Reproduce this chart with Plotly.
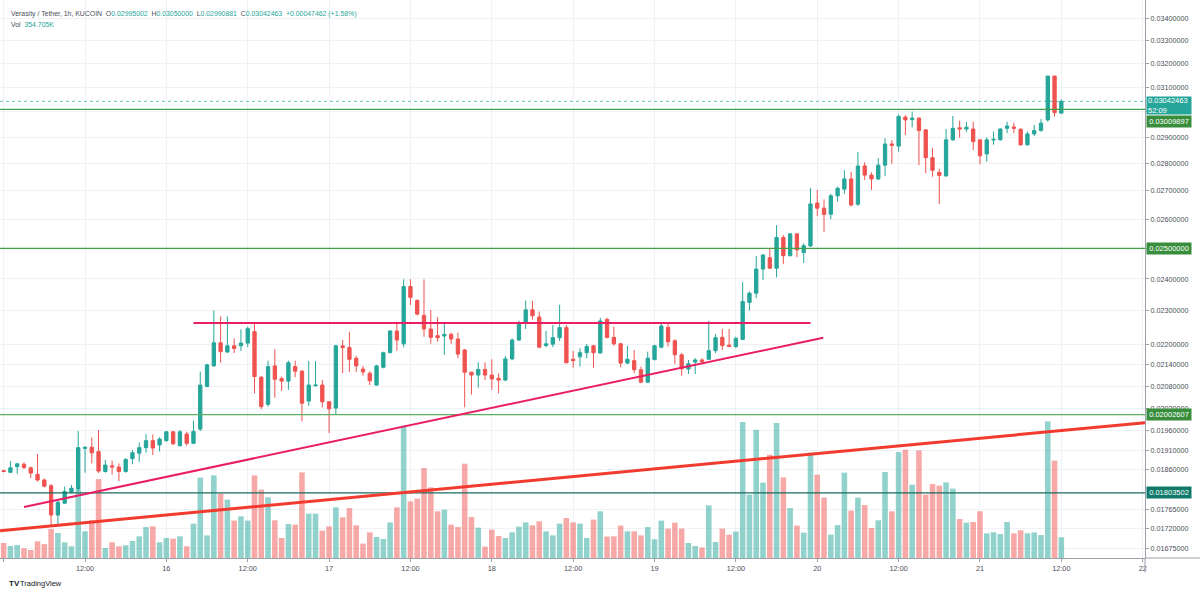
import math
import pandas as pd
import plotly.graph_objects as go

# ---------------- data ----------------
start_time = "2021-11-15 00:00"

opens = [0.01858, 0.01854, 0.01868, 0.01874, 0.01865, 0.01849, 0.01835, 0.01821, 0.01751, 0.01779,
         0.01805, 0.01813, 0.01914, 0.01917, 0.01906, 0.01856, 0.01870, 0.01867, 0.01856, 0.01888,
         0.01902, 0.01916, 0.01934, 0.01923, 0.01934, 0.01957, 0.01921, 0.01951, 0.01927, 0.01964,
         0.02079, 0.02137, 0.02204, 0.02177, 0.02195, 0.02195, 0.02203, 0.02237, 0.02105, 0.02030,
         0.02137, 0.02101, 0.02094, 0.02135, 0.02122, 0.02039, 0.02081, 0.02083, 0.02037, 0.02020,
         0.02195, 0.02190, 0.02159, 0.02128, 0.02116, 0.02083, 0.02133, 0.02175, 0.02239, 0.02201,
         0.02376, 0.02332, 0.02286, 0.02245, 0.02225, 0.02224, 0.02229, 0.02215, 0.02183, 0.02119,
         0.02111, 0.02127, 0.02111, 0.02102, 0.02097, 0.02157, 0.02212, 0.02264, 0.02303, 0.02281,
         0.02196, 0.02200, 0.02219, 0.02249, 0.02156, 0.02163, 0.02175, 0.02195, 0.02174, 0.02274,
         0.02220, 0.02201, 0.02145, 0.02152, 0.02126, 0.02091, 0.02155, 0.02191, 0.02250, 0.02210,
         0.02169, 0.02128, 0.02148, 0.02154, 0.02156, 0.02181, 0.02220, 0.02197, 0.02193, 0.02214,
         0.02326, 0.02355, 0.02432, 0.02469, 0.02435, 0.02537, 0.02476, 0.02549, 0.02486, 0.02508,
         0.02656, 0.02638, 0.02617, 0.02682, 0.02706, 0.02743, 0.02652, 0.02791, 0.02757, 0.02743,
         0.02794, 0.02874, 0.02866, 0.02979, 0.02969, 0.02975, 0.02929, 0.02822, 0.02767, 0.02754,
         0.02890, 0.02937, 0.02932, 0.02932, 0.02890, 0.02836, 0.02889, 0.02890, 0.02935, 0.02940,
         0.02931, 0.02871, 0.02913, 0.02926, 0.02968, 0.03147, 0.02995002]

highs = [0.01860, 0.01882, 0.01877, 0.01879, 0.01868, 0.01900, 0.01839, 0.01825, 0.01787, 0.01819,
         0.01823, 0.01959, 0.01919, 0.01942, 0.01962, 0.01885, 0.01883, 0.01876, 0.01889, 0.01910,
         0.01929, 0.01951, 0.01950, 0.01943, 0.01959, 0.01959, 0.01962, 0.01957, 0.01986, 0.02121,
         0.02143, 0.02301, 0.02283, 0.02283, 0.02217, 0.02244, 0.02252, 0.02265, 0.02108, 0.02152,
         0.02185, 0.02107, 0.02152, 0.02152, 0.02125, 0.02151, 0.02151, 0.02097, 0.02039, 0.02198,
         0.02212, 0.02237, 0.02166, 0.02137, 0.02122, 0.02140, 0.02178, 0.02241, 0.02267, 0.02399,
         0.02399, 0.02336, 0.02399, 0.02303, 0.02281, 0.02260, 0.02234, 0.02234, 0.02186, 0.02120,
         0.02147, 0.02147, 0.02156, 0.02116, 0.02166, 0.02217, 0.02270, 0.02332, 0.02331, 0.02298,
         0.02239, 0.02257, 0.02319, 0.02257, 0.02180, 0.02188, 0.02201, 0.02198, 0.02279, 0.02279,
         0.02252, 0.02204, 0.02195, 0.02183, 0.02135, 0.02178, 0.02198, 0.02262, 0.02259, 0.02214,
         0.02174, 0.02154, 0.02159, 0.02159, 0.02270, 0.02230, 0.02245, 0.02245, 0.02222, 0.02390,
         0.02360, 0.02475, 0.02481, 0.02500, 0.02579, 0.02545, 0.02551, 0.02551, 0.02517, 0.02710,
         0.02703, 0.02669, 0.02689, 0.02715, 0.02775, 0.02769, 0.02843, 0.02805, 0.02767, 0.02820,
         0.02896, 0.02889, 0.02990, 0.02988, 0.03001, 0.02979, 0.02930, 0.02858, 0.02779, 0.02932,
         0.02984, 0.02965, 0.02960, 0.02960, 0.02892, 0.02900, 0.02922, 0.02935, 0.02961, 0.02957,
         0.02935, 0.02922, 0.02948, 0.02971, 0.03147, 0.03147, 0.03050000]

lows = [0.01854, 0.01852, 0.01850, 0.01862, 0.01840, 0.01831, 0.01817, 0.01728, 0.01724, 0.01777,
        0.01803, 0.01807, 0.01853, 0.01876, 0.01852, 0.01853, 0.01848, 0.01832, 0.01853, 0.01874,
        0.01880, 0.01903, 0.01897, 0.01906, 0.01931, 0.01923, 0.01919, 0.01921, 0.01926, 0.01959,
        0.02077, 0.02135, 0.02146, 0.02174, 0.02174, 0.02180, 0.02191, 0.02060, 0.02017, 0.02024,
        0.02048, 0.02067, 0.02070, 0.02105, 0.01984, 0.02026, 0.02080, 0.02022, 0.01954, 0.02002,
        0.02116, 0.02120, 0.02120, 0.02109, 0.02083, 0.02081, 0.02130, 0.02174, 0.02181, 0.02191,
        0.02318, 0.02286, 0.02222, 0.02201, 0.02207, 0.02169, 0.02201, 0.02159, 0.02022, 0.02057,
        0.02076, 0.02097, 0.02070, 0.02060, 0.02094, 0.02153, 0.02210, 0.02245, 0.02273, 0.02188,
        0.02191, 0.02191, 0.02209, 0.02144, 0.02132, 0.02135, 0.02159, 0.02132, 0.02174, 0.02217,
        0.02195, 0.02133, 0.02142, 0.02116, 0.02088, 0.02088, 0.02153, 0.02188, 0.02193, 0.02142,
        0.02109, 0.02114, 0.02114, 0.02145, 0.02154, 0.02174, 0.02183, 0.02191, 0.02188, 0.02212,
        0.02301, 0.02339, 0.02397, 0.02432, 0.02405, 0.02449, 0.02473, 0.02471, 0.02452, 0.02505,
        0.02610, 0.02556, 0.02600, 0.02661, 0.02689, 0.02644, 0.02646, 0.02739, 0.02703, 0.02739,
        0.02754, 0.02799, 0.02845, 0.02909, 0.02939, 0.02794, 0.02764, 0.02751, 0.02653, 0.02751,
        0.02886, 0.02898, 0.02920, 0.02851, 0.02797, 0.02807, 0.02871, 0.02887, 0.02916, 0.02916,
        0.02867, 0.02867, 0.02905, 0.02922, 0.02961, 0.02981, 0.02990881]

closes = [0.01856, 0.01865, 0.01875, 0.01866, 0.01852, 0.01835, 0.01820, 0.01751, 0.01781, 0.01807,
          0.01815, 0.01916, 0.01917, 0.01903, 0.01857, 0.01872, 0.01867, 0.01856, 0.01886, 0.01903,
          0.01916, 0.01934, 0.01915, 0.01938, 0.01957, 0.01926, 0.01957, 0.01927, 0.01958, 0.02083,
          0.02140, 0.02204, 0.02178, 0.02195, 0.02187, 0.02203, 0.02246, 0.02107, 0.02024, 0.02135,
          0.02099, 0.02094, 0.02146, 0.02122, 0.02033, 0.02083, 0.02083, 0.02037, 0.02018, 0.02195,
          0.02190, 0.02156, 0.02137, 0.02120, 0.02095, 0.02137, 0.02175, 0.02239, 0.02212, 0.02376,
          0.02342, 0.02290, 0.02245, 0.02220, 0.02219, 0.02229, 0.02215, 0.02171, 0.02119, 0.02111,
          0.02127, 0.02111, 0.02100, 0.02097, 0.02157, 0.02212, 0.02264, 0.02303, 0.02285, 0.02191,
          0.02201, 0.02219, 0.02249, 0.02146, 0.02152, 0.02175, 0.02193, 0.02175, 0.02269, 0.02220,
          0.02201, 0.02145, 0.02156, 0.02126, 0.02091, 0.02159, 0.02195, 0.02254, 0.02207, 0.02169,
          0.02129, 0.02143, 0.02154, 0.02149, 0.02181, 0.02219, 0.02196, 0.02193, 0.02217, 0.02329,
          0.02355, 0.02432, 0.02478, 0.02435, 0.02537, 0.02476, 0.02549, 0.02495, 0.02509, 0.02653,
          0.02638, 0.02616, 0.02682, 0.02709, 0.02743, 0.02649, 0.02791, 0.02757, 0.02743, 0.02794,
          0.02874, 0.02869, 0.02981, 0.02968, 0.02975, 0.02926, 0.02822, 0.02775, 0.02756, 0.02890,
          0.02935, 0.02932, 0.02939, 0.02883, 0.02829, 0.02890, 0.02892, 0.02932, 0.02944, 0.02935,
          0.02871, 0.02913, 0.02926, 0.02955, 0.03147, 0.02997, 0.03042463]

volume_k = [257, 205, 222, 166, 137, 286, 239, 496, 428, 268,
            200, 1170, 457, 645, 1351, 171, 268, 200, 217, 291,
            371, 530, 542, 268, 342, 332, 371, 200, 588, 1375,
            388, 1414, 1101, 999, 640, 713, 640, 1414, 1170, 1038,
            645, 342, 581, 571, 1465, 759, 759, 469, 542, 867,
            696, 855, 559, 246, 439, 359, 325, 610, 867, 2264,
            970, 1016, 1539, 1209, 799, 828, 571, 530, 1614, 701,
            520, 195, 486, 376, 342, 439, 537, 610, 559, 628,
            457, 388, 588, 684, 610, 588, 342, 657, 799, 366,
            371, 554, 457, 457, 388, 530, 320, 640, 503, 605,
            503, 257, 205, 180, 901, 274, 503, 400, 451, 2326,
            1084, 2196, 1289, 1768, 2309, 1380, 855, 554, 434, 1802,
            1426, 1033, 400, 564, 1460, 811, 1033, 906, 513, 645,
            1471, 799, 1813, 1854, 1255, 1842, 1084, 1265, 1238, 1294,
            1187, 667, 605, 616, 799, 422, 439, 410, 616, 422,
            474, 422, 439, 393, 2338, 1666, 354.705]

price_tick_values = [0.01675, 0.0172, 0.01765, 0.0186, 0.0191, 0.0196, 0.0202, 0.0208, 0.0214,
                     0.022, 0.023, 0.024, 0.025, 0.026, 0.027, 0.028, 0.029, 0.030, 0.031,
                     0.032, 0.033, 0.034]
# 0.025 and 0.030 labels sit under the price-label boxes in the reference
price_tick_labels = ["0.01675000", "0.01720000", "0.01765000", "0.01860000", "0.01910000",
                     "0.01960000", "0.02020000", "0.02080000", "0.02140000", "0.02200000",
                     "0.02300000", "0.02400000", "", "0.02600000", "0.02700000", "0.02800000",
                     "0.02900000", "", "0.03100000", "0.03200000", "0.03300000", "0.03400000"]

time_tick_values = ["2021-11-15 00:00", "2021-11-15 12:00", "2021-11-16 00:00", "2021-11-16 12:00",
                    "2021-11-17 00:00", "2021-11-17 12:00", "2021-11-18 00:00", "2021-11-18 12:00",
                    "2021-11-19 00:00", "2021-11-19 12:00", "2021-11-20 00:00", "2021-11-20 12:00",
                    "2021-11-21 00:00", "2021-11-21 12:00", "2021-11-22 00:00"]
time_tick_labels = ["15", "12:00", "16", "12:00", "17", "12:00", "18", "12:00",
                    "19", "12:00", "20", "12:00", "21", "12:00", "22"]

x_range = ["2021-11-14 23:27:47", "2021-11-22 00:20:24"]
price_range = [0.016535, 0.034833]
volume_axis_max_k = 9550

# horizontal levels
level_prices = [0.03009897, 0.02500000, 0.02002607, 0.01803502]
level_labels = ["0.03009897", "0.02500000", "0.02002607", "0.01803502"]
level_line_colors = ["#43a047", "#43a047", "#5cae60", "#1b6b60"]
level_box_colors = ["#388e3c", "#388e3c", "#388e3c", "#0f7a69"]
level_label_shift = [-12.5, 0, 0, 0]

last_price = 0.03042463
last_price_label = "0.03042463<br>52:09"

# trend lines
pink_flat_x = ["2021-11-16 04:00", "2021-11-19 23:00"]
pink_flat_y = [0.02263, 0.02263]
pink_rise_x = ["2021-11-15 03:00", "2021-11-20 00:53"]
pink_rise_y = [0.01770, 0.02219]
red_rise_x = x_range
red_rise_y = [0.01715, 0.01981]

# ---------------- figure ----------------
UP = "#26a69a"
DOWN = "#ef5350"
GRID = "#eef1f6"
AXIS = "#9da0a8"
TXT = "#4a4e59"
FONT = "Liberation Sans, Arial, sans-serif"
GAP = "\u00a0\u00a0"

times = pd.date_range(start_time, periods=len(opens), freq="h")
vol_colors = ["rgba(38,166,154,0.5)" if c >= o else "rgba(239,83,80,0.5)"
              for o, c in zip(opens, closes)]

fig = go.Figure()

fig.add_trace(go.Bar(
    x=times, y=volume_k, marker=dict(color=vol_colors, line=dict(width=0)),
    width=0.82 * 3600 * 1000, yaxis="y", xaxis="x", hoverinfo="skip", showlegend=False))

fig.add_trace(go.Candlestick(
    x=times, open=opens, high=highs, low=lows, close=closes,
    increasing=dict(line=dict(color=UP, width=1), fillcolor=UP),
    decreasing=dict(line=dict(color=DOWN, width=1), fillcolor=DOWN),
    whiskerwidth=0, yaxis="y2", xaxis="x", showlegend=False))

# level lines
for p, col in zip(level_prices, level_line_colors):
    fig.add_trace(go.Scatter(x=x_range, y=[p, p], mode="lines", yaxis="y2",
                             line=dict(color=col, width=1.3), hoverinfo="skip", showlegend=False))
fig.add_trace(go.Scatter(x=x_range, y=[last_price, last_price], mode="lines", yaxis="y2",
                         line=dict(color="rgba(38,166,154,0.7)", width=1, dash="dot"),
                         hoverinfo="skip", showlegend=False))

# trend lines
fig.add_trace(go.Scatter(x=pink_flat_x, y=pink_flat_y, mode="lines", yaxis="y2",
                         line=dict(color="#e91e63", width=2), hoverinfo="skip", showlegend=False))
fig.add_trace(go.Scatter(x=pink_rise_x, y=pink_rise_y, mode="lines", yaxis="y2",
                         line=dict(color="#e91e63", width=2), hoverinfo="skip", showlegend=False))
fig.add_trace(go.Scatter(x=red_rise_x, y=red_rise_y, mode="lines", yaxis="y2",
                         line=dict(color="#f23b2f", width=3), hoverinfo="skip", showlegend=False))

annotations = []
for p, lab, bc, sh in zip(level_prices, level_labels, level_box_colors, level_label_shift):
    annotations.append(dict(
        x=1, xref="paper", xanchor="left", xshift=1,
        y=math.log10(p), yref="y2", yanchor="middle", yshift=sh,
        text=lab, showarrow=False, bgcolor=bc, width=42, height=9, borderpad=1,
        font=dict(family=FONT, size=7.5, color="white"), align="center"))
annotations.append(dict(
    x=1, xref="paper", xanchor="left", xshift=1,
    y=math.log10(last_price), yref="y2", yanchor="middle", yshift=-4,
    text=last_price_label, showarrow=False, bgcolor=UP, width=42, height=15, borderpad=1,
    font=dict(family=FONT, size=7.5, color="white"), align="left"))

val = "<span style='color:%s'>%%s</span>" % UP
legend_line1 = ("Verasity / Tether, 1h, KUCOIN" + GAP + "O" + val % "0.02995002" +
                GAP + "H" + val % "0.03050000" + GAP + "L" + val % "0.02990881" +
                GAP + "C" + val % "0.03042463" + GAP +
                val % "+0.00047462 (+1.58%)")
legend_line2 = "Vol" + GAP + val % "354.705K"
annotations.append(dict(x=0, y=1, xref="paper", yref="paper", xanchor="left", yanchor="top",
                        xshift=9, yshift=-8, text=legend_line1, showarrow=False,
                        font=dict(family=FONT, size=6.9, color=TXT)))
annotations.append(dict(x=0, y=1, xref="paper", yref="paper", xanchor="left", yanchor="top",
                        xshift=9, yshift=-19, text=legend_line2, showarrow=False,
                        font=dict(family=FONT, size=6.9, color=TXT)))
annotations.append(dict(x=0, y=0, xref="paper", yref="paper", xanchor="left", yanchor="middle",
                        xshift=7, yshift=-25, text="<b>TV</b>", showarrow=False,
                        font=dict(family=FONT, size=8, color="#131722")))
annotations.append(dict(x=0, y=0, xref="paper", yref="paper", xanchor="left", yanchor="middle",
                        xshift=18, yshift=-25, text="TradingView", showarrow=False,
                        font=dict(family=FONT, size=7.5, color="#131722")))

shapes = [
    dict(type="line", xref="paper", yref="paper", x0=1, x1=1.05, y0=0, y1=0,
         line=dict(color=AXIS, width=1)),
    dict(type="line", xref="paper", yref="paper", x0=1, x1=1, y0=0, y1=-0.026,
         line=dict(color=AXIS, width=1)),
]

fig.update_layout(
    width=1200, height=595,
    margin=dict(l=0, r=55, t=0, b=37),
    paper_bgcolor="white", plot_bgcolor="white",
    showlegend=False,
    font=dict(family=FONT, size=7, color=TXT),
    xaxis=dict(type="date", range=x_range, tickvals=time_tick_values, ticktext=time_tick_labels,
               showgrid=True, gridcolor=GRID, gridwidth=1, zeroline=False,
               ticks="outside", ticklen=3, tickcolor=AXIS, showline=True, linecolor=AXIS,
               tickfont=dict(family=FONT, size=7.3, color=TXT),
               rangeslider=dict(visible=False), fixedrange=True),
    yaxis=dict(range=[0, volume_axis_max_k], visible=False, showgrid=False, fixedrange=True),
    yaxis2=dict(type="log", overlaying="y", side="right",
                range=[math.log10(price_range[0]), math.log10(price_range[1])],
                tickvals=price_tick_values, ticktext=price_tick_labels,
                showgrid=True, gridcolor=GRID, gridwidth=1, zeroline=False,
                ticks="outside", ticklen=3, tickcolor=AXIS, showline=True, linecolor=AXIS,
                tickfont=dict(family=FONT, size=7.2, color=TXT), fixedrange=True),
    bargap=0.18,
    annotations=annotations,
    shapes=shapes,
)

fig.write_html("out.html")
